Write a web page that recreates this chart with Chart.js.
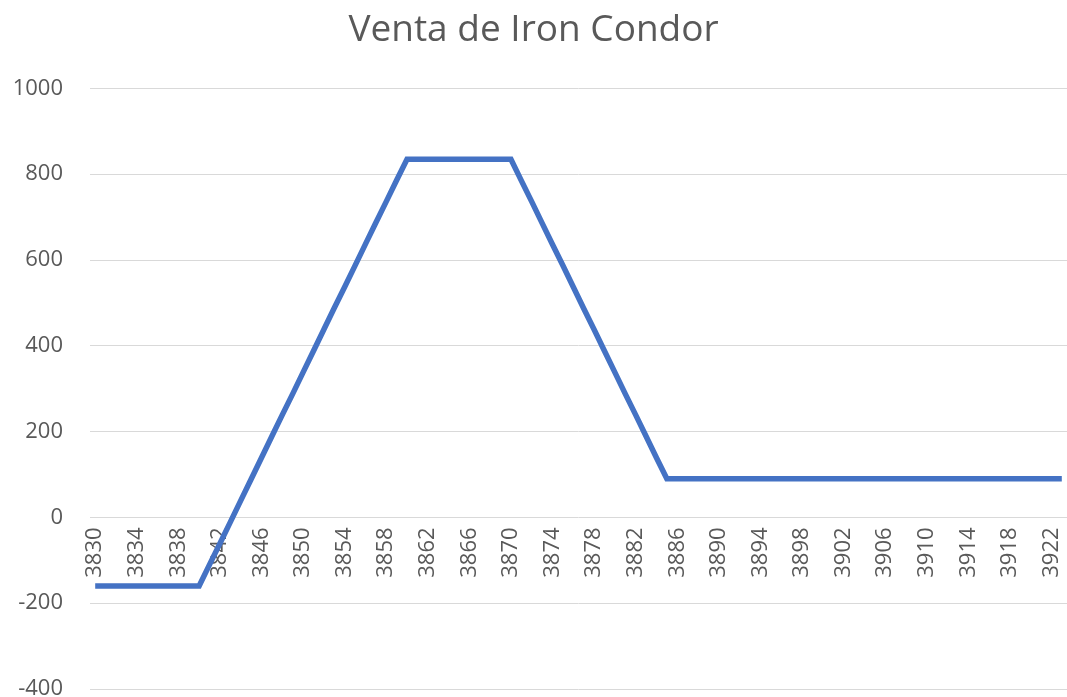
<!DOCTYPE html>
<html>
<head>
<meta charset="utf-8">
<script src="https://cdn.jsdelivr.net/npm/chart.js@4/dist/chart.umd.min.js"></script>
<style>
  html, body { margin: 0; padding: 0; background: #ffffff; }
  #wrap { width: 1067px; height: 697px; }
</style>
</head>
<body>
<div id="wrap"><canvas id="grafico"></canvas></div>
<script>
// Precios del subyacente (eje X)
const precios = [
  3830, 3831, 3832, 3833, 3834, 3835, 3836, 3837, 3838, 3839,
  3840, 3841, 3842, 3843, 3844, 3845, 3846, 3847, 3848, 3849,
  3850, 3851, 3852, 3853, 3854, 3855, 3856, 3857, 3858, 3859,
  3860, 3861, 3862, 3863, 3864, 3865, 3866, 3867, 3868, 3869,
  3870, 3871, 3872, 3873, 3874, 3875, 3876, 3877, 3878, 3879,
  3880, 3881, 3882, 3883, 3884, 3885, 3886, 3887, 3888, 3889,
  3890, 3891, 3892, 3893, 3894, 3895, 3896, 3897, 3898, 3899,
  3900, 3901, 3902, 3903, 3904, 3905, 3906, 3907, 3908, 3909,
  3910, 3911, 3912, 3913, 3914, 3915, 3916, 3917, 3918, 3919,
  3920, 3921, 3922, 3923
];

// Resultado de la estrategia en cada precio
const resultado = [
  -160, -160, -160, -160, -160, -160, -160, -160, -160, -160,
  -160, -110, -61, -11, 39, 89, 139, 189, 239, 288,
  338, 388, 438, 488, 537, 587, 637, 687, 736, 786,
  835, 835, 835, 835, 835, 835, 835, 835, 835, 835,
  835, 785, 736, 686, 636, 587, 537, 487, 438, 388,
  338, 288, 239, 189, 139, 90, 90, 90, 90, 90,
  90, 90, 90, 90, 90, 90, 90, 90, 90, 90,
  90, 90, 90, 90, 90, 90, 90, 90, 90, 90,
  90, 90, 90, 90, 90, 90, 90, 90, 90, 90,
  90, 90, 90, 90
];

// Eje Y
const yMin = -400;
const yMax = 1000;
const yPaso = 200;

const gris = '#595959';

const ctx = document.getElementById('grafico').getContext('2d');
new Chart(ctx, {
    type: 'line',
    data: {
        labels: precios,
        datasets: [{
            label: 'Resultado',
            data: resultado,
            borderColor: '#4472C4',
            borderWidth: 5.5,
            pointRadius: 0,
            tension: 0,
            fill: false
        }]
    },
    options: {
        responsive: true,
        maintainAspectRatio: false,
        animation: false,
        layout: { padding: { top: 0, left: 0, right: 0, bottom: 8 } },
        plugins: {
            legend: { display: false },
            tooltip: { enabled: false },
            title: {
                display: true,
                text: 'Venta de Iron Condor',
                color: gris,
                font: { family: 'Open Sans', size: 37, weight: 'normal', lineHeight: 1.2 },
                padding: { top: 8, bottom: 36 }
            }
        },
        scales: {
            x: {
                type: 'category',
                offset: true,
                position: { y: 0 }, // etiquetas junto a la línea del cero
                grid: { display: false, drawTicks: false },
                border: { display: false },
                ticks: {
                    autoSkip: false,
                    minRotation: 90,
                    maxRotation: 90,
                    padding: 10,
                    color: gris,
                    font: { family: 'Open Sans', size: 22 },
                    callback: function (val, i) {
                        return i % 4 === 0 ? this.getLabelForValue(val) : '';
                    }
                },
                afterFit: (scale) => {
                    scale.height = 0;
                    scale.paddingLeft = 0;
                    scale.paddingRight = 0;
                }
            },
            y: {
                min: yMin,
                max: yMax,
                grid: { color: '#d9d9d9', lineWidth: 1, drawTicks: false },
                border: { display: false },
                ticks: {
                    stepSize: yPaso,
                    padding: 27,
                    color: gris,
                    font: { family: 'Open Sans', size: 22 },
                    callback: (v) => String(v)
                },
                afterFit: (scale) => {
                    scale.width = 90;
                    scale.paddingTop = 0;
                    scale.paddingBottom = 0;
                }
            }
        }
    }
});
</script>
</body>
</html>
